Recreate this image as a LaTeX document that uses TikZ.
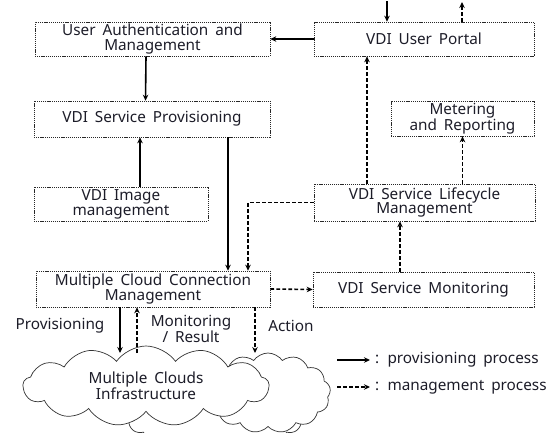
\documentclass[tikz,border=0pt]{standalone}
\usepackage{fontspec}
\setmainfont{Noto Sans}
\usetikzlibrary{arrows.meta,shapes.symbols,calc}
\definecolor{txt}{RGB}{28,28,40}
\definecolor{edge}{RGB}{40,40,40}
\newcommand{\dfont}{\fontsize{15.3}{14.8}\selectfont\spaceskip=0.45em plus 0.1em\relax}
\begin{document}
\begin{tikzpicture}[x=1pt,y=-1pt,
  box/.style={draw=edge,line width=0.6pt,dash pattern=on 1.2pt off 0.9pt,
    align=center,font=\dfont,text=txt,inner sep=0pt},
  prov/.style={draw=black,line width=1.6pt,-{Stealth[length=6pt,width=5.5pt]}},
  mgmt/.style={draw=black,line width=1.6pt,dash pattern=on 3.8pt off 2.2pt,-{Stealth[length=6pt,width=5.5pt]}},
  lbl/.style={font=\dfont,text=txt,align=center,inner sep=0pt},
  cld/.style={cloud,cloud puffs=13,cloud puff arc=110,cloud ignores aspect,draw=black!80,line width=0.7pt,fill=white,inner sep=0pt}]
\useasboundingbox (0,0) rectangle (560,432);
\begin{scope}
\clip (0,0) rectangle (560,432);
% clouds
\node[cld,minimum width=175pt,minimum height=70pt] (cloudC) at (215,418) {};
\node[cld,minimum width=125pt,minimum height=80pt] (cloudB) at (268,393) {};
\node[cld,minimum width=246pt,minimum height=80pt,lbl] (cloudA) at (146,386) {Multiple Clouds\\Infrastructure};
\end{scope}
% boxes
\node[box,minimum width=235pt,minimum height=34pt] (uam) at (152.5,39) {User Authentication and\\Management};
\node[box,minimum width=236pt,minimum height=36pt] (vsp) at (152,119) {VDI Service Provisioning};
\node[box,minimum width=220pt,minimum height=34pt] (portal) at (424,39) {VDI User Portal};
\node[box,minimum width=143pt,minimum height=35pt] (meter) at (462.5,118.5) {Metering\\and Reporting};
\node[box,minimum width=174pt,minimum height=34pt] (img) at (121,204) {VDI Image\\management};
\node[box,minimum width=221pt,minimum height=37pt] (life) at (424.5,202.5) {VDI Service Lifecycle\\Management};
\node[box,minimum width=234pt,minimum height=36pt] (mccm) at (153,289) {Multiple Cloud Connection\\Management};
\node[box,minimum width=221pt,minimum height=35pt] (mon) at (423.5,289.5) {VDI Service Monitoring};
% free ends
\coordinate (pin) at (387,1);
\coordinate (pout) at (462,2);
\coordinate (c1) at (120,353);
\coordinate (c2) at (137,353);
\coordinate (c3) at (255,353);
% connectors
\draw[prov] (pin) -- (pin |- portal.north);
\draw[mgmt] (pout |- portal.north) -- (pout);
\draw[prov] (portal.west) -- (uam.east);
\draw[prov] ([xshift=-6.5pt]uam.south) -- ([xshift=-6.5pt]vsp.north);
\draw[prov] ([xshift=19pt]img.north) -- ([xshift=19pt]img.north |- vsp.south);
\draw[prov] ([xshift=76pt]vsp.south) -- ([xshift=76pt]vsp.south |- mccm.north);
\draw[mgmt] (life.west) -| ([xshift=95pt]mccm.north);
\draw[mgmt] ([xshift=-57.5pt]life.north) -- ([xshift=-57.5pt]life.north |- portal.south);
\draw[mgmt] (meter.south |- life.north) -- (meter.south);
\draw[mgmt] ([xshift=-23.5pt]mon.north) -- ([xshift=-23.5pt]mon.north |- life.south);
\draw[mgmt] (mccm.east) -- (mon.west);
\draw[prov] (c1 |- mccm.south) -- (c1);
\draw[mgmt] (c2) -- (c2 |- mccm.south);
\draw[mgmt] (c3 |- mccm.south) -- (c3);
% labels
\node[lbl] (lprov) at (60,326) {Provisioning};
\node[lbl] (lmon) at (191,329) {Monitoring\\/ Result};
\node[lbl] (lact) at (291,326) {Action};
% legend
\coordinate (l1a) at (337,360);
\coordinate (l1b) at (370,360);
\coordinate (l2a) at (337,387);
\coordinate (l2b) at (370,387);
\draw[prov,line width=1.2pt] (l1a) -- (l1b);
\draw[mgmt,line width=1.2pt] (l2a) -- (l2b);
\node[lbl,anchor=west] (leg1) at (375,360) {: provisioning process};
\node[lbl,anchor=west] (leg2) at (375,387) {: management process};
\end{tikzpicture}
\end{document}
